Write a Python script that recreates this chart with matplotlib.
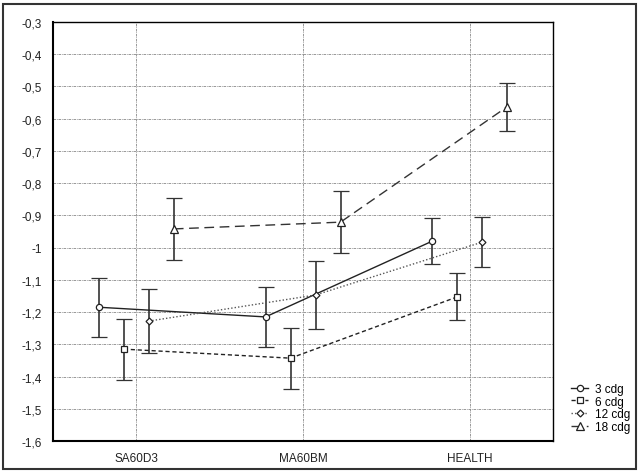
import matplotlib
matplotlib.use("Agg")
import matplotlib.pyplot as plt
import matplotlib.ticker as mticker
from matplotlib.lines import Line2D
from matplotlib.patches import Rectangle
import numpy as np

plt.rcParams["font.family"] = ["Liberation Sans", "DejaVu Sans"]

# datos
groups = ["SA60D3", "MA60BM", "HEALTH"]
series = ["3 cdg", "6 cdg", "12 cdg", "18 cdg"]
mean_3 = [-1.185, -1.215, -0.98]
err_3 = [0.092, 0.093, 0.072]
mean_6 = [-1.315, -1.343, -1.153]
err_6 = [0.095, 0.095, 0.073]
mean_12 = [-1.228, -1.147, -0.983]
err_12 = [0.10, 0.104, 0.078]
mean_18 = [-0.942, -0.921, -0.563]
err_18 = [0.095, 0.096, 0.075]
yticks = [-1.6, -1.5, -1.4, -1.3, -1.2, -1.1, -1.0, -0.9, -0.8, -0.7, -0.6, -0.5, -0.4, -0.3]

means = [mean_3, mean_6, mean_12, mean_18]
errs = [err_3, err_6, err_12, err_18]
offsets = [-0.225, -0.075, 0.075, 0.225]
styles = ["-", (0, (3, 2)), (0, (1, 1.5)), (0, (7, 4))]
markers = ["o", "s", "D", "^"]
msizes = [4.5, 5, 3.5, 5.5]
colors = ["#222222", "#222222", "#555555", "#333333"]

fig = plt.figure(figsize=(6.39, 4.77), dpi=100)
ax = fig.add_axes([53 / 639, 35 / 477, 500 / 639, 419 / 477])

x = np.arange(len(groups))
handles = []
for m, e, off, ls, mk, ms, c, lab in zip(means, errs, offsets, styles, markers,
                                         msizes, colors, series):
    ax.errorbar(x + off, m, yerr=e, color=c, linestyle=ls, linewidth=1,
                marker=mk, markersize=ms, markerfacecolor="white",
                markeredgecolor="#222222", markeredgewidth=0.9,
                ecolor="#333333", elinewidth=1.2, capsize=6, capthick=1.2)
    handles.append(Line2D([], [], color=c, linestyle=ls, linewidth=1,
                          marker=mk, markersize=ms, markerfacecolor="white",
                          markeredgecolor="#222222", markeredgewidth=0.9,
                          label=lab))

ax.set_xlim(-0.5, 2.5)
ax.set_ylim(-1.6, -0.3)
ax.set_xticks(x)
ax.set_xticklabels(groups)
ax.set_yticks(yticks)
ax.yaxis.set_major_formatter(mticker.FuncFormatter(
    lambda v, p: ("%g" % round(v, 1)).replace(".", ",")))
ax.tick_params(length=0, labelsize=8.5, colors="#222222", pad=8)
ax.grid(True, color="#888888", linestyle=(0, (3, 1, 1, 1)), linewidth=0.6)
ax.set_axisbelow(True)
for sp in ax.spines.values():
    sp.set_color("black")
    sp.set_linewidth(1)
ax.spines["left"].set_linewidth(1.5)
ax.spines["bottom"].set_linewidth(1.5)

ax.legend(handles=handles, loc="lower left", bbox_to_anchor=(1.02, 0.0),
          frameon=False, fontsize=8.5, handlelength=1.4, handletextpad=0.6,
          labelspacing=0.05, borderaxespad=0.3)

fig.patches.append(Rectangle((3 / 639, 7 / 477), 633 / 639, 465 / 477,
                             transform=fig.transFigure, fill=False,
                             edgecolor="#333333", linewidth=1.5))

fig.savefig("out.png", dpi=100)
